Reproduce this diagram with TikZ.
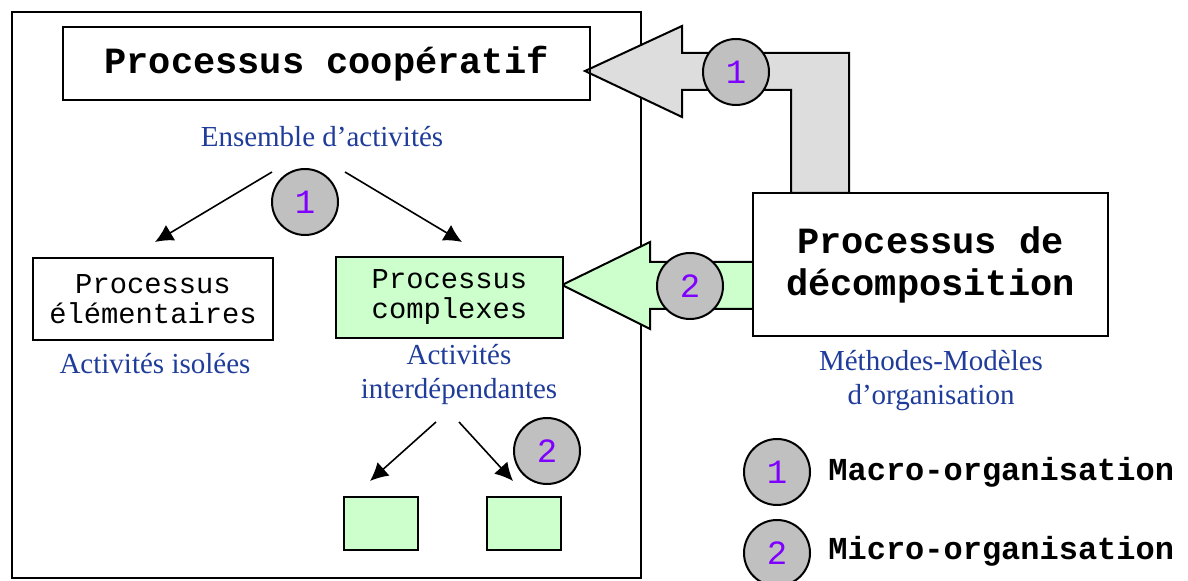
\documentclass[tikz,border=0pt]{standalone}
\usepackage{fontspec}
\setmainfont{Liberation Serif}
\setmonofont{Liberation Mono}
\usetikzlibrary{arrows.meta}
\definecolor{vertclair}{HTML}{CCFFCC}
\definecolor{grisfleche}{HTML}{DDDDDD}
\definecolor{grisrond}{HTML}{C0C0C0}
\definecolor{bleutexte}{HTML}{1F3C9A}
\definecolor{chiffre}{HTML}{7F00FF}
\tikzset{
  boite/.style={draw, line width=1pt, inner sep=0pt},
  rond/.style={circle, draw, line width=1pt, fill=grisrond, minimum size=33pt, inner sep=0pt,
    text=chiffre, font=\ttfamily\fontsize{17}{17}\selectfont},
  titre/.style={font=\ttfamily\bfseries\fontsize{18.5}{21}\selectfont, align=center},
  proc/.style={font=\ttfamily\fontsize{14.4}{15}\selectfont, align=center},
  commentaire/.style={text=bleutexte, font=\fontsize{14.5}{17}\selectfont, align=center, inner sep=0pt},
  fleche/.style={line width=0.8pt, -{Latex[length=9pt,width=9pt]}}
}

\begin{document}
\begin{tikzpicture}[x=0.5pt,y=-0.5pt]
            \useasboundingbox (0,0) rectangle (1188,581);
            \draw[line width=1pt] (12,12) rectangle (641,578);

            % grandes fleches
            \draw[line width=1pt, fill=grisfleche] (585,71) -- (682,26) -- (682,53) -- (849,53) -- (849,193)
                -- (791,193) -- (791,90) -- (682,90) -- (682,117) -- cycle;
            \draw[line width=1pt, fill=vertclair] (562,285) -- (650,242) -- (650,262) -- (753,262)
                -- (753,309) -- (650,309) -- (650,329) -- cycle;

            \node[boite, titre, minimum width=263.5pt, minimum height=36.5pt] (coop) at (326.5,63.5) {Processus coopératif};
            \node[boite, titre, fill=white, minimum width=177.5pt, minimum height=71.5pt] (decomp) at (930.5,264.5) {Processus de\\décomposition};
            \node[boite, proc, minimum width=120pt, minimum height=41pt] (elem) at (153,299) {Processus\\élémentaires};
            \node[boite, proc, fill=vertclair, minimum width=113.5pt, minimum height=40.5pt] (compl) at (449.5,297.5) {Processus\\complexes};
            \node[boite, fill=vertclair, minimum width=37pt, minimum height=26.5pt] (sousA) at (381,523.5) {};
            \node[boite, fill=vertclair, minimum width=37pt, minimum height=26.5pt] (sousB) at (524,523.5) {};

            \node[commentaire] (ens) at (322,137) {Ensemble d’activités};
            \node[commentaire] (isol) at (155,364) {Activités isolées};
            \node[commentaire] (inter) at (459,375) {Activités\\interdépendantes};
            \node[commentaire] (methodes) at (931,381) {Méthodes-Modèles\\d’organisation};

            \coordinate (A1) at (272,172);
            \coordinate (B1) at (155,242);
            \coordinate (A2) at (345,172);
            \coordinate (B2) at (462,242);
            \coordinate (C1) at (436,422);
            \coordinate (D1) at (370,481);
            \coordinate (C2) at (459,422);
            \coordinate (D2) at (513,481);
            \draw[fleche] (A1) -- (B1);
            \draw[fleche] (A2) -- (B2);
            \draw[fleche] (C1) -- (D1);
            \draw[fleche] (C2) -- (D2);

            \node[rond] (r1) at (305,202) {1};
            \node[rond] (r2) at (547,451) {2};
            \node[rond] (r3) at (736,72) {1};
            \node[rond] (r4) at (690,286) {2};

            % legende
            \node[rond] (leg1) at (777,472) {1};
            \node[rond] (leg2) at (777,553) {2};
            \node[font=\ttfamily\bfseries\fontsize{16}{16}\selectfont, anchor=west, inner sep=0pt] (macro) at (828,472) {Macro-organisation};
            \node[font=\ttfamily\bfseries\fontsize{16}{16}\selectfont, anchor=west, inner sep=0pt] (micro) at (828,551) {Micro-organisation};
        \end{tikzpicture}
\end{document}
